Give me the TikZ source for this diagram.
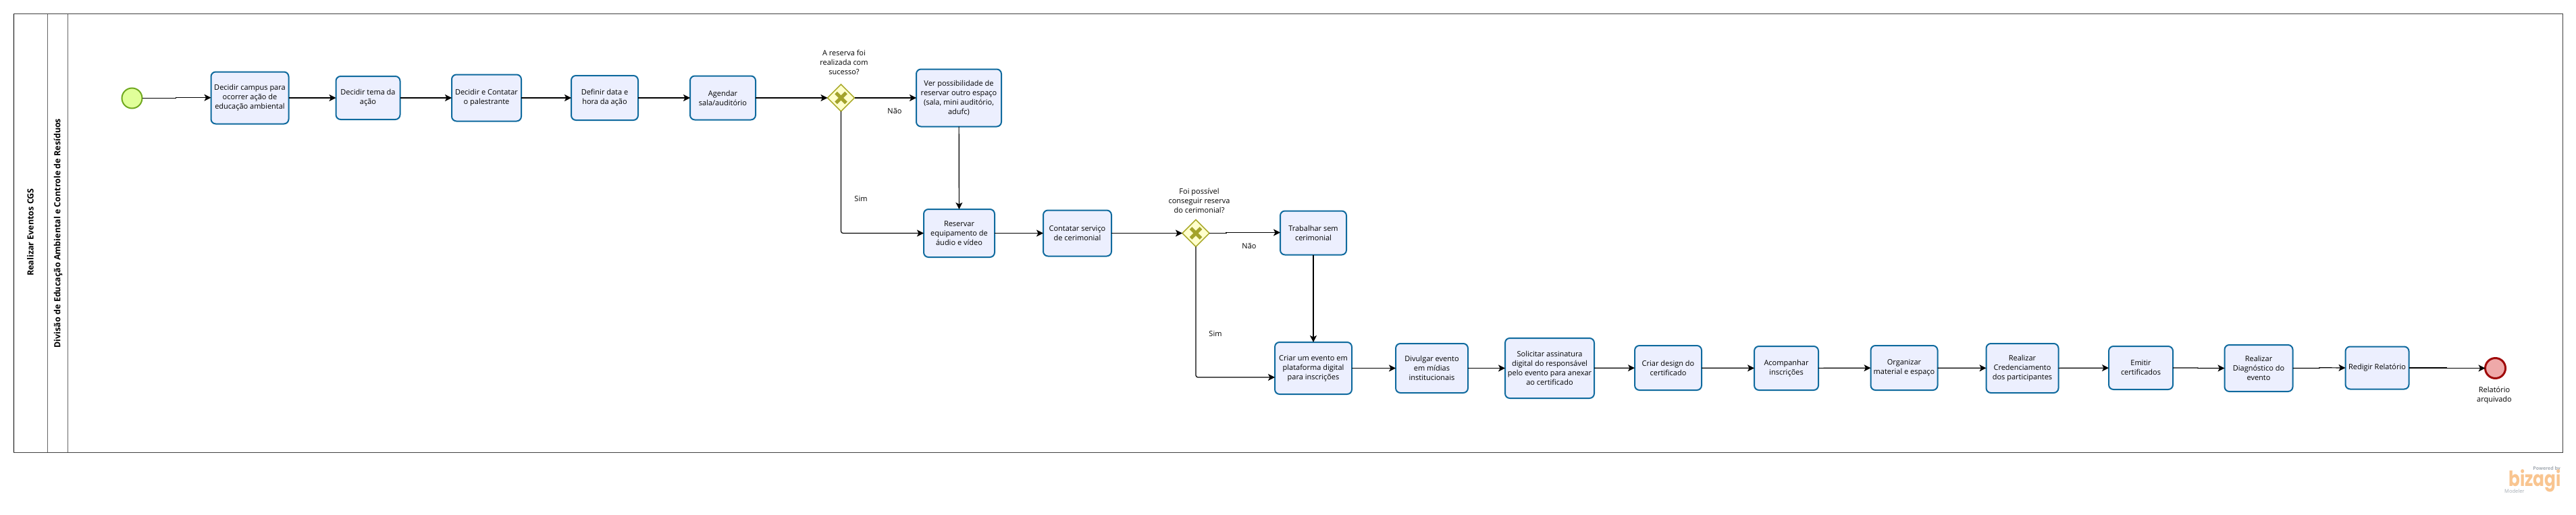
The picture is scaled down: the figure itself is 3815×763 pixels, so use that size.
\documentclass[tikz,border=0pt]{standalone}
\usepackage{fontspec}
\setmainfont{Open Sans}
\newfontfamily\logofont{Poppins}
\usetikzlibrary{arrows.meta,shapes.geometric,calc}
\definecolor{taskfill}{HTML}{ECEFFE}
\definecolor{taskline}{HTML}{0F6A9E}
\definecolor{startfill}{HTML}{E0FF99}
\definecolor{startline}{HTML}{6FA81E}
\definecolor{endfill}{HTML}{EFA9A9}
\definecolor{endline}{HTML}{A00A0A}
\definecolor{gwfill}{HTML}{FFFFCC}
\definecolor{gwline}{HTML}{ABAB2E}
\definecolor{gwcross}{HTML}{A3A32B}
\definecolor{logoorange}{HTML}{F9C590}
\definecolor{logogrey}{HTML}{A4ABB3}
\tikzset{
  x=1pt,y=-1pt,
  txt/.style={font=\fontsize{11}{14}\selectfont,align=center,inner sep=0pt,text=black},
  taskbox/.style={txt,draw=taskline,fill=taskfill,line width=2pt,rounded corners=7pt,outer sep=0pt},
  gateway/.style={diamond,draw=gwline,fill=gwfill,line width=1.6pt,minimum width=40pt,minimum height=40pt,inner sep=0pt,outer sep=0pt,
    path picture={\draw[gwcross,line width=5pt] ($(path picture bounding box.center)+(-7.5pt,-7.5pt)$)--($(path picture bounding box.center)+(7.5pt,7.5pt)$) ($(path picture bounding box.center)+(-7.5pt,7.5pt)$)--($(path picture bounding box.center)+(7.5pt,-7.5pt)$);}},
  startev/.style={circle,draw=startline,fill=startfill,line width=2pt,minimum size=30pt,inner sep=0pt,outer sep=0pt},
  endev/.style={circle,draw=endline,fill=endfill,line width=3pt,minimum size=30pt,inner sep=0pt,outer sep=0pt},
  flow/.style={line width=1.2pt,black,-{Stealth[length=10pt,width=10pt,inset=2.5pt]}},
  lanetitle/.style={font=\fontsize{12.5}{14}\selectfont\bfseries,rotate=90,inner sep=0pt,text=black},
}
\begin{document}
\begin{tikzpicture}
\useasboundingbox (0,0) rectangle (3815,763);
\fill[white] (0,0) rectangle (3815,763);
% pool and lanes
\draw[line width=1pt,draw=black!75] (20.3,20.5) rectangle (3795,670);
\draw[line width=1.2pt,black] (20.3,20.5) -- (20.3,670);
\draw[line width=0.8pt,black!60] (70.3,20.5) -- (70.3,670);
\draw[line width=0.8pt,black!60] (100.3,20.5) -- (100.3,670);
\node[lanetitle] (pool) at (45,344) {Realizar Eventos CGS};
\node[lanetitle] (lane) at (86,345.5) {Divisão de Educação Ambiental e Controle de Resíduos};
% events
\node[startev] (s) at (195.5,145.5) {};
\node[endev] (e) at (3695.5,545.5) {};
\node[txt] (elab) at (3694,586) {Relatório\\arquivado};
% first row
\node[taskbox,minimum width=115pt,minimum height=77pt] (t1) at (370,145) {Decidir campus para\\ocorrer ação de\\educação ambiental};
\node[taskbox,minimum width=95pt,minimum height=64pt] (t2) at (545,145) {Decidir tema da\\ação};
\node[taskbox,minimum width=103pt,minimum height=69pt] (t3) at (720.5,145) {Decidir e Contatar\\o palestrante};
\node[taskbox,minimum width=99pt,minimum height=66pt] (t4) at (895.5,145) {Definir data e\\hora da ação};
\node[taskbox,minimum width=97pt,minimum height=65pt] (t5) at (1070.5,145) {Agendar\\sala/auditório};
\node[gateway] (g1) at (1245.5,145) {};
\node[txt] (g1lab) at (1250,92) {A reserva foi\\realizada com\\sucesso?};
\node[taskbox,minimum width=126pt,minimum height=85pt] (ver) at (1420,145) {Ver possibilidade de\\reservar outro espaço\\(sala, mini auditório,\\adufc)};
\node[txt] (nao1) at (1325,165) {Não};
\node[txt] (sim1) at (1275,295) {Sim};
% second row
\node[taskbox,minimum width=105pt,minimum height=71pt] (res) at (1420.5,345.5) {Reservar\\equipamento de\\áudio e vídeo};
\node[taskbox,minimum width=101pt,minimum height=68pt] (con) at (1595.5,345.5) {Contatar serviço\\de cerimonial};
\node[gateway] (g2) at (1771,345.5) {};
\node[txt] (g2lab) at (1776,297) {Foi possível\\conseguir reserva\\do cerimonial?};
\node[taskbox,minimum width=98pt,minimum height=65pt] (tra) at (1945,345) {Trabalhar sem\\cerimonial};
\node[txt] (nao2) at (1850,365) {Não};
\node[txt] (sim2) at (1800,495) {Sim};
% third row
\node[taskbox,minimum width=114pt,minimum height=77pt] (cri) at (1945,545.5) {Criar um evento em\\plataforma digital\\para inscrições};
\node[taskbox,minimum width=107pt,minimum height=73pt] (div) at (2120.5,545.5) {Divulgar evento\\em mídias\\institucionais};
\node[taskbox,minimum width=132pt,minimum height=89pt] (sol) at (2295,545.5) {Solicitar assinatura\\digital do responsável\\pelo evento para anexar\\ao certificado};
\node[taskbox,minimum width=99pt,minimum height=66pt] (des) at (2470.5,545) {Criar design do\\certificado};
\node[taskbox,minimum width=95pt,minimum height=65pt] (aco) at (2645.5,545.5) {Acompanhar\\inscrições};
\node[taskbox,minimum width=99pt,minimum height=66pt] (org) at (2820,545) {Organizar\\material e espaço};
\node[taskbox,minimum width=107pt,minimum height=73pt] (cre) at (2995,545.5) {Realizar\\Credenciamento\\dos participantes};
\node[taskbox,minimum width=95pt,minimum height=64pt] (emi) at (3170.5,545) {Emitir\\certificados};
\node[taskbox,minimum width=101pt,minimum height=69pt] (dia) at (3345,545.5) {Realizar\\Diagnóstico do\\evento};
\node[taskbox,minimum width=94pt,minimum height=63pt] (red) at (3520.5,545) {Redigir Relatório};
% connectors
\draw[flow] (s.east) -- (260.7,145.5) -- (260.7,144.7) -- ([yshift=0.3pt]t1.west);
\draw[flow] (t1) -- (t2);
\draw[flow] (t2) -- (t3);
\draw[flow] (t3) -- (t4);
\draw[flow] (t4) -- (t5);
\draw[flow] (t5) -- (g1);
\draw[flow] (g1) -- (ver);
\draw[flow] (ver) -- (res);
\draw[flow,rounded corners=3pt] (g1.south) |- (res.west);
\draw[flow] (res) -- (con);
\draw[flow] (con) -- (g2);
\draw[flow] (g2.east) -- (1816,345.5) -- (1816,344.5) -- ([yshift=0.5pt]tra.west);
\draw[flow] (tra) -- (cri);
\draw[flow,rounded corners=3pt] (g2.south) |- ([yshift=-13.5pt]cri.west);
\draw[flow] (cri) -- (div);
\draw[flow] (div) -- (sol);
\draw[flow] (sol) -- (des);
\draw[flow] (des) -- (aco);
\draw[flow] (aco) -- (org);
\draw[flow] (org) -- (cre);
\draw[flow] (cre) -- (emi);
\draw[flow] (emi.east) -- (3255,545) -- (3255,545.6) -- (dia.west);
\draw[flow] (dia.east) -- (3435,545.5) -- (3435,544.7) -- (red.west);
\draw[flow] (red.east) -- (3623,545) -- (3623,545.5) -- (e.west);
% logo
\node[font=\fontsize{7}{8}\selectfont\bfseries,text=logogrey,inner sep=0pt,anchor=east] (pow) at (3792,695) {Powered by};
\node[font=\logofont\fontsize{31}{31}\selectfont\bfseries,text=logoorange,inner sep=0pt,anchor=base east] (biz) at (3793,720) {\scalebox{0.8}[1]{bizagi}};
\node[font=\fontsize{7.5}{8}\selectfont,text=logogrey,inner sep=0pt,anchor=west] (mod) at (3709,728) {Modeler};
\end{tikzpicture}
\end{document}
